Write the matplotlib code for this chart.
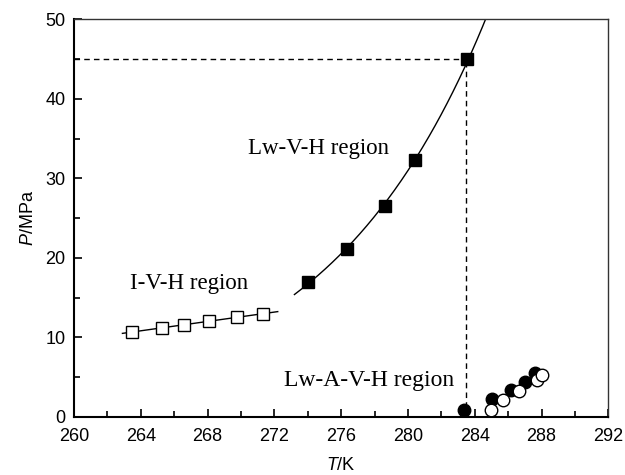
import numpy as np
import matplotlib
matplotlib.use('Agg')
import matplotlib.pyplot as plt
from matplotlib.ticker import MultipleLocator

plt.rcParams['font.family'] = ['Liberation Sans', 'DejaVu Sans']
plt.rcParams['mathtext.fontset'] = 'custom'
plt.rcParams['mathtext.it'] = 'Liberation Sans:italic'
plt.rcParams['mathtext.rm'] = 'Liberation Sans'

# I-V-H region (open squares)
t_ivh = [263.5, 265.25, 266.6, 268.1, 269.75, 271.3]
p_ivh = [10.6, 11.2, 11.6, 12.1, 12.5, 12.9]
# Lw-V-H region (filled squares)
t_lwvh = [274.0, 276.35, 278.6, 280.4, 283.55]
p_lwvh = [16.9, 21.1, 26.5, 32.3, 45.0]
# Lw-A-V-H region (filled / open circles)
t_fill = [283.35, 285.05, 286.15, 287.0, 287.6]
p_fill = [0.8, 2.2, 3.35, 4.35, 5.45]
t_open = [284.97, 285.7, 286.66, 287.7, 288.0]
p_open = [0.8, 2.1, 3.2, 4.6, 5.3]

# fitted lines
k1, b1 = np.polyfit(t_ivh, p_ivh, 1)
t_fit1 = np.linspace(262.9, 272.2, 50)
k2, b2 = np.polyfit(t_lwvh, np.log(p_lwvh), 1)
t_fit2 = np.linspace(273.2, 285.0, 200)

fig = plt.figure(figsize=(6.25, 4.75), dpi=100)
ax = fig.add_axes([0.1184, 0.1227, 0.855, 0.8366])

ax.plot(t_fit1, k1 * t_fit1 + b1, 'k-', linewidth=1)
ax.plot(t_fit2, np.exp(k2 * t_fit2 + b2), 'k-', linewidth=1)

# dashed guide lines at 45 MPa
ax.plot([260, 283.5], [45, 45], 'k--', linewidth=1, dashes=(4, 3))
ax.plot([283.5, 283.5], [0, 45], 'k--', linewidth=1, dashes=(4, 3))

ax.plot(t_ivh, p_ivh, 's', markersize=8, markerfacecolor='white',
        markeredgecolor='black', markeredgewidth=1, zorder=3)
ax.plot(t_lwvh, p_lwvh, 's', markersize=8, color='black', zorder=3)
ax.plot(t_fill, p_fill, 'o', markersize=9, color='black', zorder=3,
        clip_on=False)
ax.plot(t_open, p_open, 'o', markersize=9, markerfacecolor='white',
        markeredgecolor='black', markeredgewidth=1, zorder=4, clip_on=False)

ax.text(270.4, 33.75, 'Lw-V-H region', fontsize=16.5, family='Liberation Serif',
        va='center', ha='left')
ax.text(263.35, 16.75, 'I-V-H region', fontsize=16.5, family='Liberation Serif',
        va='center', ha='left')
ax.text(272.6, 4.5, 'Lw-A-V-H region', fontsize=17, family='Liberation Serif',
        va='center', ha='left')

ax.set_xlim(260, 292)
ax.set_ylim(0, 50)
ax.xaxis.set_major_locator(MultipleLocator(4))
ax.xaxis.set_minor_locator(MultipleLocator(2))
ax.yaxis.set_major_locator(MultipleLocator(10))
ax.yaxis.set_minor_locator(MultipleLocator(5))
ax.tick_params(which='both', direction='in', labelsize=13, width=1.2)
ax.tick_params(which='major', length=6)
ax.tick_params(which='minor', length=4)
ax.tick_params(axis='x', pad=8)
ax.tick_params(axis='y', pad=6)

ax.spines['left'].set_linewidth(1.5)
ax.spines['bottom'].set_linewidth(1.5)
ax.spines['top'].set_linewidth(1)
ax.spines['right'].set_linewidth(1)
ax.spines['top'].set_color('#333333')
ax.spines['right'].set_color('#333333')

ax.set_xlabel('$\\it{T}$/K', fontsize=13, labelpad=9)
ax.set_ylabel('$\\it{P}$/MPa', fontsize=13, labelpad=6)

fig.savefig('out.png', dpi=100)
